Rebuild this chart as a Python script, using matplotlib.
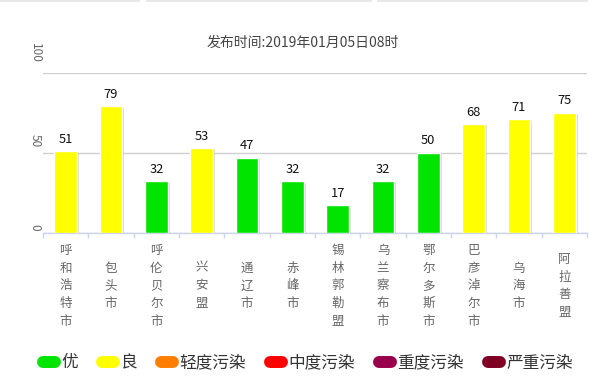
"""AQI bar chart for Inner Mongolia cities, 2019-01-05 08h."""

import matplotlib

matplotlib.use("Agg")
import matplotlib.pyplot as plt
from matplotlib import patheffects
from matplotlib.lines import Line2D
from matplotlib.patches import Rectangle

plt.rcParams["font.family"] = ["Noto Sans CJK SC", "DejaVu Sans"]

cities = ["呼和浩特市", "包头市", "呼伦贝尔市", "兴安盟", "通辽市", "赤峰市",
          "锡林郭勒盟", "乌兰察布市", "鄂尔多斯市", "巴彦淖尔市", "乌海市", "阿拉善盟"]
aqi = [51, 79, 32, 53, 47, 32, 17, 32, 50, 68, 71, 75]
levels = ["优", "良", "轻度污染", "中度污染", "重度污染", "严重污染"]
level_colors = ["#00e400", "#ffff00", "#ff7e00", "#ff0000", "#99004c", "#7e0023"]
level_upper = [50, 100, 150, 200, 300, 500]
y_ticks = [0, 50, 100]
title = "发布时间:2019年01月05日08时"


def level_color(value):
    for upper, color in zip(level_upper, level_colors):
        if value <= upper:
            return color
    return level_colors[-1]


fig = plt.figure(figsize=(6.05, 3.84), dpi=100)
ax = fig.add_axes([43 / 605, 1 - 232.5 / 384, 544 / 605, 159.5 / 384])

# faint strips along the very top of the page
for x0, x1 in [(0, 140), (146, 372), (377, 588)]:
    fig.patches.append(Rectangle((x0 / 605, 1 - 2 / 384), (x1 - x0) / 605, 2 / 384,
                                 transform=fig.transFigure, color="#e8e8e8", lw=0))

xs = list(range(len(cities)))
bars = ax.bar(xs, aqi, width=0.5, color=[level_color(v) for v in aqi],
              edgecolor="white", linewidth=1.0, zorder=3)
for bar in bars:
    bar.set_path_effects([
        patheffects.SimplePatchShadow(offset=(1.5, -1.0), shadow_rgbFace="#888888", alpha=0.35),
        patheffects.Normal(),
    ])

for x, v in zip(xs, aqi):
    ax.annotate(str(v), xy=(x, v), xytext=(0, 8.6), textcoords="offset points",
                ha="center", va="center", fontsize=9.3, color="#111111")

ax.set_xlim(-0.5, len(cities) - 0.5)
ax.set_ylim(0, 100)

for spine in ["left", "right", "top"]:
    ax.spines[spine].set_visible(False)
ax.spines["bottom"].set_color("#ccd6eb")
ax.spines["bottom"].set_linewidth(1.0)

ax.set_yticks(y_ticks)
ax.tick_params(axis="y", left=False, labelleft=False)
ax.yaxis.grid(True, color="#d0d0d0", linewidth=1.0, zorder=0)
ax.set_axisbelow(True)

ax.set_xticks([x - 0.5 for x in xs] + [len(cities) - 0.5])
ax.tick_params(axis="x", length=3.6, width=1.0, color="#ccd6eb", labelbottom=False)

for v in y_ticks:
    n = len(str(v))
    ax.annotate(str(v), xy=(0, v), xycoords=("axes fraction", "data"),
                xytext=(-5.8, (5 + 7.5 * (n - 1)) * 0.72), textcoords="offset points",
                rotation=-90, ha="center", va="center", fontsize=8.5, color="#666666")

for x, name in zip(xs, cities):
    ax.annotate("\n".join(name), xy=(x, 0), xycoords=("data", "axes fraction"),
                xytext=(0, -38.5), textcoords="offset points", ha="center", va="center",
                fontsize=9, color="#666666", linespacing=1.46)

fig.text(0.5, 1 - 43 / 384, title, ha="center", va="center", fontsize=10, color="#444444")

handles = [Line2D([0], [0], color=c, lw=8.6, solid_capstyle="round") for c in level_colors]
fig.legend(handles, levels, loc="center", bbox_to_anchor=(308 / 605, 1 - 363 / 384),
           ncol=6, frameon=False, fontsize=12, handlelength=0.7, handletextpad=0.4,
           columnspacing=1.45, labelcolor="#333333")

fig.savefig("out.png", dpi=100)
